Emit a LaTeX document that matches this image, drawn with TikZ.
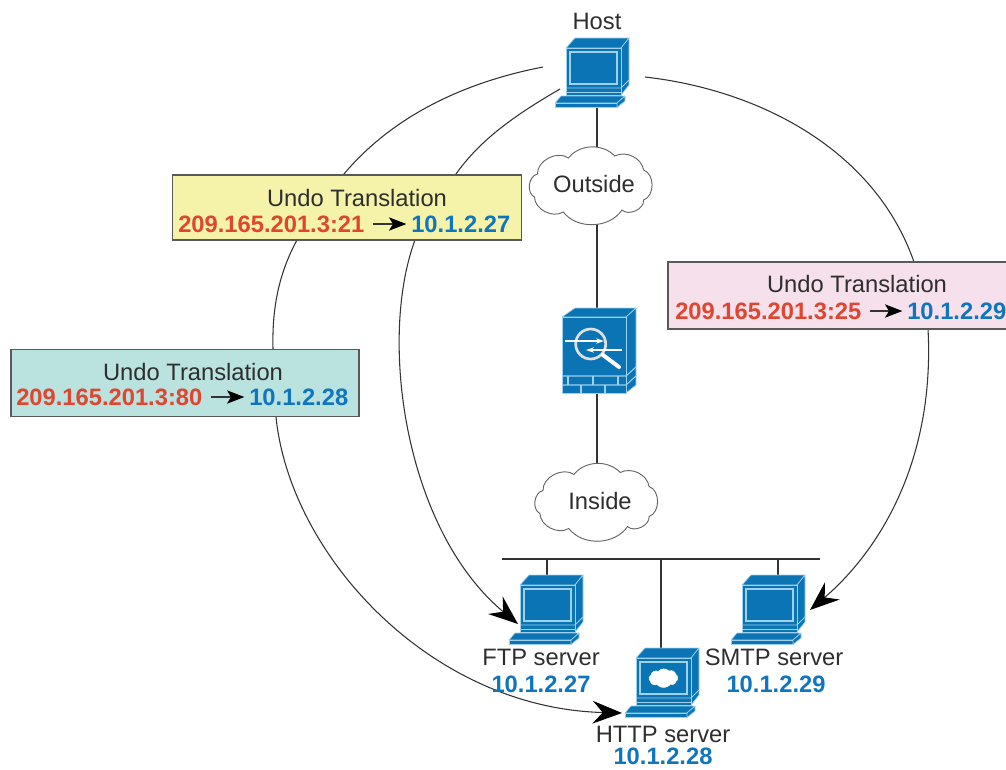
\documentclass[tikz,border=0pt]{standalone}
\usepackage{fontspec}
\setmainfont{Liberation Sans}
\usetikzlibrary{arrows.meta}
\definecolor{ciscoblue}{HTML}{0A74B4}
\definecolor{linecol}{HTML}{9FD0EC}
\definecolor{wirecol}{HTML}{333333}
\definecolor{txtcol}{HTML}{2E2E2E}
\definecolor{redtxt}{HTML}{DF4630}
\definecolor{bluetxt}{HTML}{0F75BF}
\definecolor{yellowbox}{HTML}{F5F2AA}
\definecolor{tealbox}{HTML}{BAE2DF}
\definecolor{pinkbox}{HTML}{F5E0EC}
\tikzset{
  wire/.style={draw=wirecol,line width=1pt},
  flow/.style={draw=wirecol,line width=.8pt},
  flowhead/.style={-{Stealth[length=22pt,width=17pt,inset=7.5pt,black]}},
  lbl/.style={font=\fontsize{17.8}{20}\selectfont,text=txtcol,inner sep=0pt},
  redaddr/.style={font=\fontsize{17.8}{20}\selectfont\bfseries,text=redtxt,inner sep=0pt,anchor=west},
  blueaddr/.style={font=\fontsize{17.8}{20}\selectfont\bfseries,text=bluetxt,inner sep=0pt},
  undobox/.style={draw=black!65,line width=1.2pt,minimum height=49pt,inner sep=0pt},
  miniarrow/.style={line width=.8pt,shorten <=6pt,shorten >=3.5pt,-{Stealth[length=13pt,width=10pt,inset=3pt,black]},draw=black!80},
  cloudfill/.style={draw=black!60,fill=white,line width=.7pt},
  blobfill/.style={draw=white,fill=white,line width=.3pt},
  lumps/.pic={
    \path[pic actions] (-20,-27) to[bend left=50] (25,-29) to[bend left=55] (53,-15) to[bend left=70] (53,15)
      to[bend left=70] (32,25) to[bend left=55] (-25,27) to[bend left=60] (-53,12) to[bend left=70] (-50,-11) to[bend left=65] (-20,-27) -- cycle;
  },
  computer/.pic={
    \fill[ciscoblue,draw=linecol,line width=.5pt,line join=round] (-26,-22)--(-17,-32)--(37,-32)--(29,-22)--cycle;
    \fill[ciscoblue,draw=linecol,line width=.5pt,line join=round] (29,-22)--(37,-32)--(37,15)--(29,25)--cycle;
    \fill[ciscoblue,draw=linecol,line width=.5pt] (-26,-22) rectangle (29,25);
    \draw[linecol,line width=.8pt] (-22,-18) rectangle (25,14);
    \draw[linecol,line width=.6pt] (-26,18)--(29,18)--(37,10);
    \draw[linecol,line width=.6pt] (-26,22)--(29,22);
    \fill[ciscoblue,draw=linecol,line width=.5pt,line join=round] (-31,26)--(33,26)--(25,33)--(-37,33)--cycle;
    \fill[ciscoblue,draw=linecol,line width=.5pt,line join=round] (-37,33)--(25,33)--(25,37.5)--(-37,37.5)--cycle;
    \fill[ciscoblue,draw=linecol,line width=.5pt,line join=round] (25,33)--(33,26)--(33,31)--(25,37.5)--cycle;
  }
}
\begin{document}
\begin{tikzpicture}[x=.75pt,y=-.75pt]
\useasboundingbox (0,0) rectangle (1006,769);
% anchor points
\coordinate (hostdown) at (597,107);
\coordinate (busL) at (502,559);
\coordinate (busR) at (820,559);
\coordinate (ftpdrop) at (547,575);
\coordinate (httpdrop) at (661,648);
\coordinate (smtpdrop) at (778,575);
\coordinate (fwtop) at (597,308);
\coordinate (fwbot) at (597,393);
\coordinate (ftptip) at (518,624);
\coordinate (httptip) at (622,713);
\coordinate (smtptip) at (810,610);
\coordinate (hostA) at (543,67);
\coordinate (hostB) at (560,89);
\coordinate (hostC) at (645,77);
\coordinate (outsidemid) at (589,185);
\coordinate (insidemid) at (594.5,501.5);
% wires
\draw[wire] (hostdown) -- (fwtop);
\draw[wire] (fwbot) -- (fwbot |- insidemid);
\draw[wire] (busL) -- (busR);
\draw[wire] (ftpdrop |- busL) -- (ftpdrop);
\draw[wire] (httpdrop |- busL) -- (httpdrop);
\draw[wire] (smtpdrop |- busL) -- (smtpdrop);
% flows
\draw[flow,flowhead] (hostA) .. controls (450,85) and (385,125) .. (344,174) -- (297,240)
   .. controls (278,275) and (272,310) .. (273,349) -- (276,417)
   .. controls (290,555) and (430,708) .. (httptip);
\draw[flow,flowhead] (hostB) .. controls (515,115) and (480,140) .. (456,174) -- (415,240)
   .. controls (378,340) and (405,530) .. (ftptip);
\draw[flow,flowhead] (hostC) .. controls (760,90) and (875,150) .. (914,262) -- (928,329)
   .. controls (935,460) and (880,550) .. (smtptip);
% clouds
\pic[cloudfill,xscale=1.03] at (outsidemid) {lumps};
\pic[cloudfill,xscale=1.03] at (insidemid) {lumps};
\node[lbl] (outside) at (594,184) {Outside};
\node[lbl] (inside) at (600,501) {Inside};
% computers
\pic (host) at (592,70) {computer};
\pic (ftp) at (546,607) {computer};
\pic (smtp) at (768,607) {computer};
\pic (http) at (662,680) {computer};
\pic[blobfill,scale=.24] at (663,678) {lumps};
% firewall
\fill[ciscoblue,draw=linecol,line width=.5pt,line join=round] (562,317)--(575,308)--(636,308)--(626,317)--cycle;
\fill[ciscoblue,draw=linecol,line width=.5pt,line join=round] (626,317)--(636,308)--(636,385)--(626,393)--cycle;
\fill[ciscoblue,draw=linecol,line width=.5pt] (562,317) rectangle (626,393);
\draw[linecol,line width=.8pt] (562,376)--(626,376)--(636,367) (562,385)--(626,385)--(636,376);
\draw[linecol,line width=.8pt] (568,376)--(568,385) (593,376)--(593,385) (618,376)--(618,385);
\draw[linecol,line width=.8pt] (581,385)--(581,393) (605,385)--(605,393);
\draw[black!12,line width=2pt] (590.7,344) circle[radius=15];
\draw[white,line width=.8pt,-{Stealth[length=6pt,width=4pt]}] (565,341)--(604,341);
\draw[white,line width=.8pt,-{Stealth[length=6pt,width=4pt]}] (622,350)--(586,350);
\draw[white,line width=3pt,line cap=round] (603,355)--(619,367);
% boxes
\node[undobox,fill=yellowbox,minimum width=262pt] (ybox) at (347,207.5) {};
\node[undobox,fill=tealbox,minimum width=261pt,minimum height=50pt] (tbox) at (185,383) {};
\node[undobox,fill=pinkbox,minimum width=300pt,minimum height=50pt] (pbox) at (868,295.5) {};
\node[lbl] (ytitle) at (357,198) {Undo Translation};
\node[redaddr] (yred) at (178,224) {209.165.201.3:21};
\node[blueaddr,anchor=west] (yblue) at (411,224) {10.1.2.27};
\draw[miniarrow] (yred) -- (yblue);
\node[lbl] (ttitle) at (193,372) {Undo Translation};
\node[redaddr] (tred) at (16,397) {209.165.201.3:80};
\node[blueaddr,anchor=west] (tblue) at (249,397) {10.1.2.28};
\draw[miniarrow] (tred) -- (tblue);
\node[lbl] (ptitle) at (857,284) {Undo Translation};
\node[redaddr] (pred) at (675,311) {209.165.201.3:25};
\node[blueaddr,anchor=west] (pblue) at (907,311) {10.1.2.29};
\draw[miniarrow] (pred) -- (pblue);
% labels
\node[lbl] (hostlbl) at (597,21) {Host};
\node[lbl] (ftplbl) at (541,657) {FTP server};
\node[blueaddr] (ftpip) at (541,684) {10.1.2.27};
\node[lbl] (smtplbl) at (774,657) {SMTP server};
\node[blueaddr] (smtpip) at (776,684) {10.1.2.29};
\node[lbl] (httplbl) at (663,734) {HTTP server};
\node[blueaddr] (httpip) at (663,756) {10.1.2.28};
\end{tikzpicture}
\end{document}
